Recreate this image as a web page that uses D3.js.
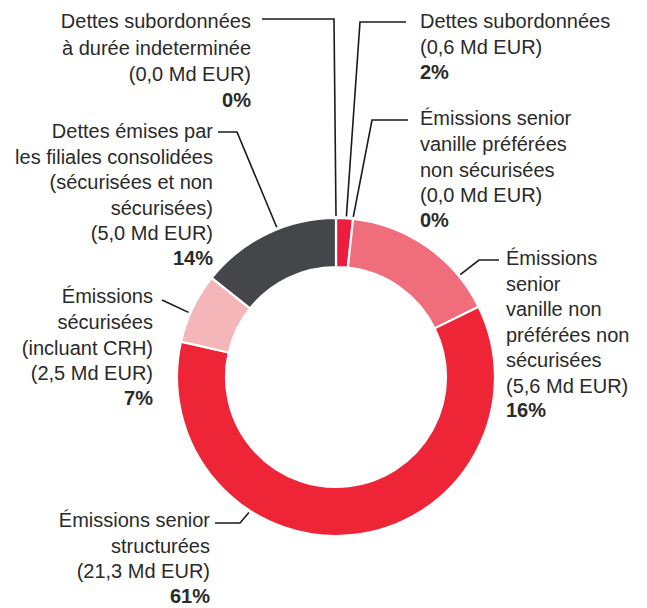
<!DOCTYPE html>
<html>
<head>
<meta charset="utf-8">
<script src="https://cdn.jsdelivr.net/npm/d3@7"></script>
<style>
  body { margin: 0; background: #fff; }
  svg text { font-family: "Liberation Sans", Arial, sans-serif; font-size: 20px; fill: #2a2a2a; }
  svg text .pct { font-weight: bold; }
</style>
</head>
<body>
<div id="vis"></div>
<script>
// frame
const FRAME_WIDTH = 647;
const FRAME_HEIGHT = 608;
const CENTER = {x: 336, y: 377};
const OUTER_R = 159;
const INNER_R = 110;

// data, clockwise from 12 o'clock
const categories = [
  "Dettes subordonnées à durée indeterminée",
  "Dettes subordonnées",
  "Émissions senior vanille préférées non sécurisées",
  "Émissions senior vanille non préférées non sécurisées",
  "Émissions senior structurées",
  "Émissions sécurisées (incluant CRH)",
  "Dettes émises par les filiales consolidées"
];
const amounts = [0.0, 0.6, 0.0, 5.6, 21.3, 2.5, 5.0];   // Md EUR
const amountLabels = ["0,0", "0,6", "0,0", "5,6", "21,3", "2,5", "5,0"];
const percents = ["0%", "2%", "0%", "16%", "61%", "7%", "14%"];
const colors = ["#45464a", "#ec1d3e", "#f06e7c", "#f06e7c", "#ee2536", "#f4b6b9", "#45464a"];

// label text lines (wrapped as in the print version)
const labelLines = [
  ["Dettes subordonnées", "à durée indeterminée"],
  ["Dettes subordonnées"],
  ["Émissions senior", "vanille préférées", "non sécurisées"],
  ["Émissions", "senior", "vanille non", "préférées non", "sécurisées"],
  ["Émissions senior", "structurées"],
  ["Émissions", "sécurisées", "(incluant CRH)"],
  ["Dettes émises par", "les filiales consolidées", "(sécurisées et non", "sécurisées)"]
];

// label layout: text anchor position, leader elbow, where the leader hits the ring (0..1 inside the slice)
const labelLayout = [
  {x: 251, y: 28, anchor: "end",   lh: 26.5, elbow: [[262, 19], [334, 19]], at: 0.5},
  {x: 420, y: 28, anchor: "start", lh: 26,   elbow: [[406, 22], [360, 22]], at: 0.6},
  {x: 420, y: 125, anchor: "start", lh: 25.8, elbow: [[408, 120], [372, 120]], at: 0.5},
  {x: 506, y: 265, anchor: "start", lh: 25.5, elbow: [[499, 260], [479, 260]], at: 0.77},
  {x: 210, y: 527, anchor: "end",   lh: 25.5, elbow: [[215, 523], [240, 523]], at: 0.68},
  {x: 153, y: 303, anchor: "end",   lh: 25.8, elbow: [[162, 300]], at: 0.42},
  {x: 213, y: 138, anchor: "end",   lh: 25.6, elbow: [[218, 132], [237, 132]], at: 0.58}
];

const FRAME = d3.select("#vis")
  .append("svg")
    .attr("width", FRAME_WIDTH)
    .attr("height", FRAME_HEIGHT);

const pie = d3.pie().sort(null).value((d) => d);
const arcs = pie(amounts);

const arc = d3.arc().innerRadius(INNER_R).outerRadius(OUTER_R);

const donut = FRAME.append("g")
  .attr("transform", "translate(" + CENTER.x + "," + CENTER.y + ")");

donut.selectAll("path")
  .data(arcs.filter((d) => d.value > 0))
  .enter()
  .append("path")
    .attr("d", arc)
    .attr("fill", (d) => colors[d.index])
    .attr("stroke", "#fff")
    .attr("stroke-width", 2.2)
    .attr("stroke-linejoin", "miter");

// leader lines
const line = d3.line();
arcs.forEach((a, i) => {
  const L = labelLayout[i];
  const ang = a.startAngle + (a.endAngle - a.startAngle) * L.at;
  const r = OUTER_R + 2;
  const end = [CENTER.x + r * Math.sin(ang), CENTER.y - r * Math.cos(ang)];
  FRAME.append("path")
    .attr("d", line(L.elbow.concat([end])))
    .attr("fill", "none")
    .attr("stroke", "#1a1a1a")
    .attr("stroke-width", 1.6);
});

// labels
categories.forEach((c, i) => {
  const L = labelLayout[i];
  const lines = labelLines[i].concat(["(" + amountLabels[i] + " Md EUR)"]);
  const t = FRAME.append("text")
    .attr("x", L.x)
    .attr("y", L.y)
    .attr("text-anchor", L.anchor);
  lines.forEach((s, k) => {
    t.append("tspan")
      .attr("x", L.x)
      .attr("dy", k === 0 ? 0 : L.lh)
      .text(s);
  });
  t.append("tspan")
    .attr("class", "pct")
    .attr("x", L.x)
    .attr("dy", L.lh - 1)
    .text(percents[i]);
});
</script>
</body>
</html>
